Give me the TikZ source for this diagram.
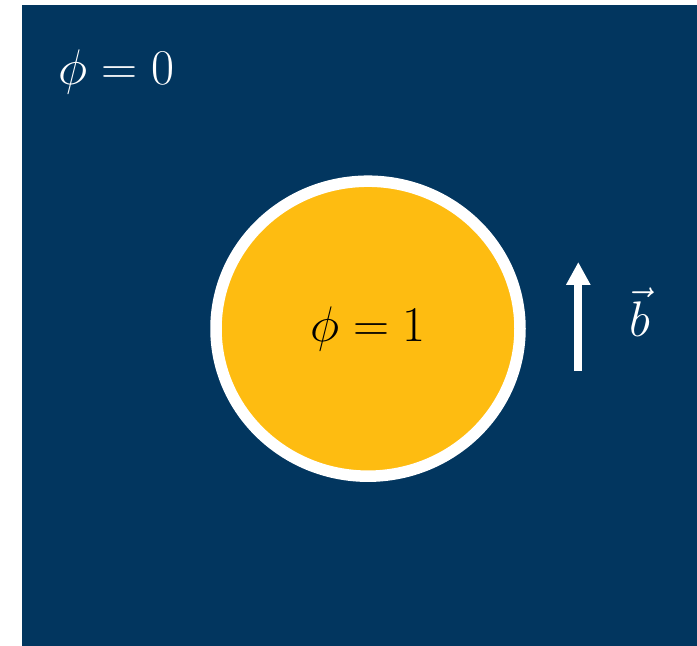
\documentclass[tikz,border=0pt]{standalone}
\usepackage{fix-cm}
\usetikzlibrary{arrows.meta,shapes.geometric}
\definecolor{navy}{HTML}{02365F}
\definecolor{gold}{HTML}{FEBC11}

\begin{document}
\begin{tikzpicture}[
  x=1pt, y=1pt,
  phase/.style={text=white, font=\fontsize{50}{56}\selectfont},
  arrow/.style={-{Triangle[width=23pt,length=23pt]}, line width=8pt, white}
]
\useasboundingbox (0,0) rectangle (697,646);
\fill[navy] (22,0) rectangle (697,641);
\node (drop) [ellipse, draw=white, line width=11.5pt, fill=gold, inner sep=0pt, outer sep=0pt,
  minimum width=304pt, minimum height=295pt, font=\fontsize{50}{56}\selectfont] at (368,317.3) {$\phi = 1$};
\node (outside) [phase] at (116.5,573.5) {$\phi = 0$};
\coordinate (tail) at (578.3,275.3);
\coordinate (head) at (578.3,384);
\node (field) [phase] at (640,334) {$\vec{b}$};
\draw[arrow] (tail) -- (head);
\end{tikzpicture}
\end{document}
